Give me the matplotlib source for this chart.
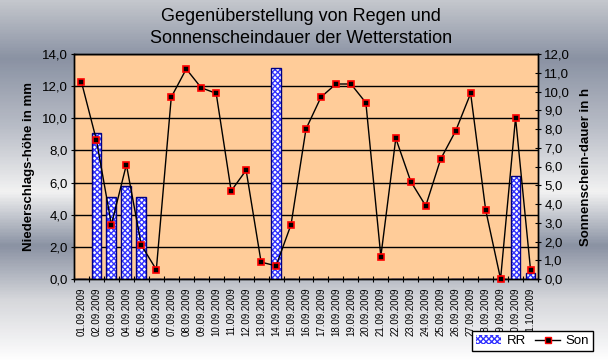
import numpy as np
import matplotlib
matplotlib.use("Agg")
import matplotlib.pyplot as plt
from matplotlib.colors import LinearSegmentedColormap
from matplotlib.ticker import FuncFormatter, MultipleLocator
from matplotlib.patches import Patch
from matplotlib.lines import Line2D

plt.rcParams['font.family'] = ['Liberation Sans', 'DejaVu Sans']

# data
days = ["01.09.2009", "02.09.2009", "03.09.2009", "04.09.2009", "05.09.2009",
        "06.09.2009", "07.09.2009", "08.09.2009", "09.09.2009", "10.09.2009",
        "11.09.2009", "12.09.2009", "13.09.2009", "14.09.2009", "15.09.2009",
        "16.09.2009", "17.09.2009", "18.09.2009", "19.09.2009", "20.09.2009",
        "21.09.2009", "22.09.2009", "23.09.2009", "24.09.2009", "25.09.2009",
        "26.09.2009", "27.09.2009", "28.09.2009", "29.09.2009", "30.09.2009",
        "01.10.2009"]
rr = [0, 9.1, 5.1, 5.8, 5.1, 0, 0, 0, 0, 0,
      0, 0, 0, 13.1, 0, 0, 0, 0, 0, 0,
      0, 0, 0, 0, 0, 0, 0, 0, 0, 6.4, 0.4]
son = [10.5, 7.4, 2.9, 6.1, 1.8, 0.5, 9.7, 11.2, 10.2, 9.9,
       4.7, 5.8, 0.9, 0.7, 2.9, 8.0, 9.7, 10.4, 10.4, 9.4,
       1.2, 7.5, 5.2, 3.9, 6.4, 7.9, 9.9, 3.7, 0.0, 8.6, 0.5]

fig = plt.figure(figsize=(6.08, 3.62), dpi=100)

# chrome style background
bg = fig.add_axes([0, 0, 1, 1], zorder=-10)
stops = [(0.0, '#c4c7cd'), (0.16, '#8a92a3'), (0.35, '#b9bdc7'),
         (0.53, '#f2f2f2'), (0.68, '#8a92a3'), (0.83, '#d6d7db'),
         (1.0, '#ffffff')]
cmap = LinearSegmentedColormap.from_list('chrome', stops)
grad = np.linspace(0, 1, 362).reshape(-1, 1)
bg.imshow(grad, aspect='auto', cmap=cmap, extent=[0, 1, 0, 1], origin='upper')
bg.axis('off')

ax = fig.add_axes([74/608, 1-279/362, 464/608, 225/362])
ax.set_facecolor('#ffcc99')
x = np.arange(len(days))

# checkered bars: hatch layer + outline layer
ax.bar(x, rr, width=0.66, color='white', edgecolor='#3333ff', hatch='xxxxxx',
       linewidth=0, zorder=3)
ax.bar(x, rr, width=0.66, fill=False, edgecolor='#000080', linewidth=1, zorder=4)

ax.set_xlim(-0.5, len(days) - 0.5)
ax.set_ylim(0, 14)
ax.yaxis.set_major_locator(MultipleLocator(2))
fmt = FuncFormatter(lambda v, p: ("%.1f" % v).replace('.', ','))
ax.yaxis.set_major_formatter(fmt)
ax.grid(axis='y', color='black', linewidth=1, zorder=1)
ax.set_axisbelow(True)

ax.set_xticks(np.arange(len(days) + 1) - 0.5)
ax.set_xticklabels([])
ax.set_xticks(x, minor=True)
ax.set_xticklabels(days, minor=True, rotation=90, fontsize=7)
ax.tick_params(axis='x', which='minor', length=0, pad=6)
ax.tick_params(axis='x', which='major', length=5, direction='inout')
ax.tick_params(axis='y', labelsize=9.5, length=5, direction='inout', pad=2)
ax.set_ylabel("Niederschlags-höhe in mm", fontsize=9.5, fontweight='bold', labelpad=5)

ax2 = ax.twinx()
ax2.plot(x, son, color='black', linewidth=1, marker='s', markersize=5,
         markerfacecolor='black', markeredgecolor='red', markeredgewidth=1.2,
         zorder=5, clip_on=False)
ax2.set_ylim(0, 12)
ax2.yaxis.set_major_locator(MultipleLocator(1))
ax2.yaxis.set_major_formatter(fmt)
ax2.tick_params(axis='y', labelsize=9.5, length=5, direction='inout', pad=2)
ax2.set_ylabel("Sonnenschein-dauer in h", fontsize=9.5, fontweight='bold', labelpad=7)

for a in (ax, ax2):
    for s in a.spines.values():
        s.set_color('black')
        s.set_linewidth(1)

fig.text(0.495, 1 - 8/362, "Gegenüberstellung von Regen und\nSonnenscheindauer der Wetterstation",
         ha='center', va='top', fontsize=13, linespacing=1.35)

handles = [Patch(facecolor='white', edgecolor='#3333ff', hatch='xxxxxx', linewidth=0),
           Line2D([], [], color='black', linewidth=1, marker='s', markersize=5,
                  markerfacecolor='black', markeredgecolor='red')]
leg = fig.legend(handles, ['RR', 'Son'], ncol=2, loc='upper right',
                 bbox_to_anchor=(593/608, 1-331/362), bbox_transform=fig.transFigure,
                 fontsize=9.5, frameon=True, fancybox=False, framealpha=1,
                 edgecolor='black', borderaxespad=0, handlelength=1.9,
                 columnspacing=0.7, handletextpad=0.4, borderpad=0.3)
leg.get_frame().set_linewidth(1)

fig.savefig("out.png", dpi=100)
